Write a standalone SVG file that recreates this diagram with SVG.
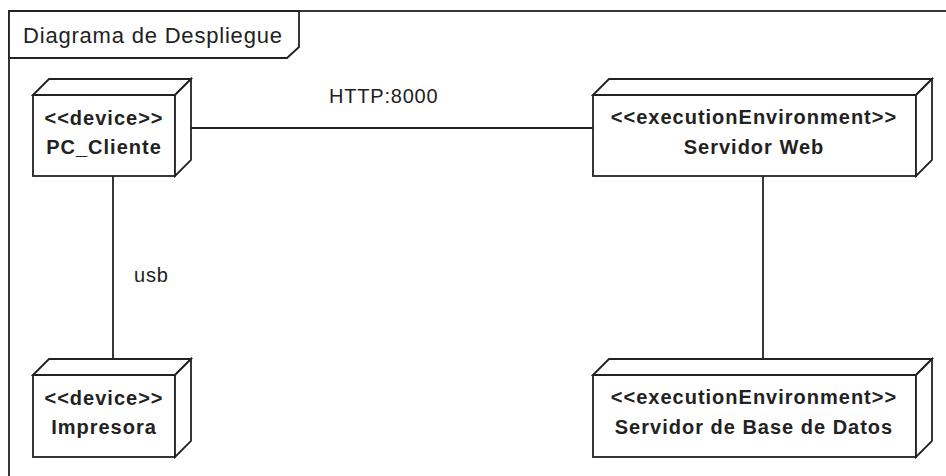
<svg xmlns="http://www.w3.org/2000/svg" width="946" height="476" viewBox="0 0 946 476">
<style>
.frame{fill:#ffffff;stroke:#222;stroke-width:1.8}
.node{fill:#ffffff;stroke:#222;stroke-width:1.8;stroke-linejoin:miter}
.edge{fill:none;stroke:#222;stroke-width:1.8}
.st{font-family:"Liberation Sans",Arial,sans-serif;font-weight:bold;font-size:20px;letter-spacing:1px;fill:#222;text-anchor:middle}
.lbl{font-family:"Liberation Sans",Arial,sans-serif;font-size:20px;letter-spacing:0.8px;fill:#222}
.title{font-family:"Liberation Sans",Arial,sans-serif;font-size:22px;letter-spacing:0.8px;fill:#222}
</style>
<rect x="0" y="0" width="946" height="476" fill="#ffffff"/>
<g id="frame">
<rect class="frame" x="9" y="11" width="1000" height="500"/>
<polygon class="frame" points="9,11 299,11 299,47 287,58 9,58"/>
<text class="title" x="23" y="43">Diagrama de Despliegue</text>
</g>
<g id="connectors">
<line class="edge" x1="191" y1="128" x2="593" y2="128"/>
<text class="lbl" x="329" y="103">HTTP:8000</text>
<line class="edge" x1="113" y1="176" x2="113" y2="359"/>
<text class="lbl" x="134" y="282">usb</text>
<line class="edge" x1="763" y1="176" x2="763" y2="359"/>
</g>
<g id="pc_cliente">
<rect class="node" x="33" y="95" width="142" height="81"/>
<path class="node" d="M33,95 L49,79 L191,79 L175,95 Z"/>
<path class="node" d="M175,95 L191,79 L191,160 L175,176 Z"/>
<text class="st" x="104" y="125">&lt;&lt;device&gt;&gt;</text>
<text class="st" x="104" y="154">PC_Cliente</text>
</g>
<g id="servidor_web">
<rect class="node" x="593" y="95" width="323" height="81"/>
<path class="node" d="M593,95 L609,79 L932,79 L916,95 Z"/>
<path class="node" d="M916,95 L932,79 L932,160 L916,176 Z"/>
<text class="st" x="754" y="124">&lt;&lt;executionEnvironment&gt;&gt;</text>
<text class="st" x="754" y="154">Servidor Web</text>
</g>
<g id="impresora">
<rect class="node" x="33" y="375" width="142" height="82"/>
<path class="node" d="M33,375 L49,359 L191,359 L175,375 Z"/>
<path class="node" d="M175,375 L191,359 L191,441 L175,457 Z"/>
<text class="st" x="104" y="405">&lt;&lt;device&gt;&gt;</text>
<text class="st" x="104" y="434">Impresora</text>
</g>
<g id="servidor_bd">
<rect class="node" x="593" y="375" width="323" height="82"/>
<path class="node" d="M593,375 L609,359 L932,359 L916,375 Z"/>
<path class="node" d="M916,375 L932,359 L932,441 L916,457 Z"/>
<text class="st" x="754" y="404">&lt;&lt;executionEnvironment&gt;&gt;</text>
<text class="st" x="754" y="434">Servidor de Base de Datos</text>
</g>
</svg>
